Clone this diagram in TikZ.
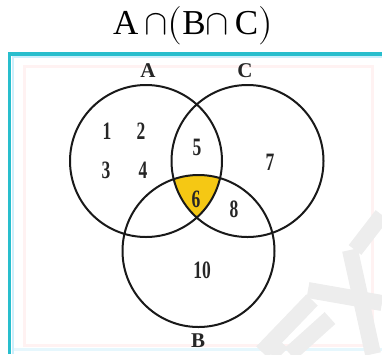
\documentclass[tikz,border=0pt]{standalone}
\usepackage{fontspec}
\setmainfont{Liberation Serif}
\usepackage{unicode-math}
\setmathfont{Latin Modern Math}
\definecolor{framecyan}{RGB}{40,190,205}
\definecolor{gold}{RGB}{245,200,20}
\begin{document}
\begin{tikzpicture}[x=1pt,y=-1pt,
  ring/.style={draw=black!90,line width=2pt},
  num/.style={font=\fontsize{25}{25}\selectfont\bfseries,text=black!85},
  setlab/.style={font=\fontsize{21}{21}\selectfont\bfseries,text=black!85},
  wm/.style={black!7,line width=16pt}]
\useasboundingbox (0,0) rectangle (382,354);
% frame
\draw[pink!20,line width=3pt] (24,66) rectangle (372,345);
\draw[cyan!10,line width=3pt] (13,349) -- (382,349);
\draw[framecyan,line width=3.5pt] (9.5,354) -- (9.5,54) -- (382,54);
\draw[cyan!20,line width=2pt] (13,354) -- (13,57) -- (382,57);
% watermark
\draw[wm] (262,352) -- (312,300);
\draw[wm] (290,354) -- (330,318);
\draw[wm] (270,342) -- (282,354);
\draw[wm] (308,290) -- (382,303);
\draw[wm] (350,250) -- (373,354);
\draw[wm] (355,250) -- (382,215);
% title
\node (title) at (193,26) {\fontsize{35}{40}\selectfont A\,$\cap$$\bigl($B$\cap$\,C$\bigr)$};
% shaded region
\coordinate (ca) at (146,161);
\coordinate (cc) at (247.5,161);
\coordinate (cb) at (198.5,251);
\begin{scope}
\clip (ca) circle (76);
\clip (cc) circle (76);
\fill[gold] (cb) circle (76);
\end{scope}
\draw[ring] (ca) circle (76);
\draw[ring] (cc) circle (76);
\draw[ring] (cb) circle (76);
% labels
\node[setlab] (la) at (148,71) {A};
\node[setlab] (lc) at (245,71) {C};
\node[setlab] (lb) at (198,341) {B};
\node[num] (n1) at (107,131) {\scalebox{0.7}[1]{1}};
\node[num] (n2) at (141,131) {\scalebox{0.7}[1]{2}};
\node[num] (n3) at (106,170) {\scalebox{0.7}[1]{3}};
\node[num] (n4) at (143,170) {\scalebox{0.7}[1]{4}};
\node[num] (n5) at (197,147) {\scalebox{0.7}[1]{5}};
\node[num] (n7) at (270,162) {\scalebox{0.7}[1]{7}};
\node[num] (n6) at (196,199) {\scalebox{0.7}[1]{6}};
\node[num] (n8) at (234,209) {\scalebox{0.7}[1]{8}};
\node[num] (n10) at (202,270) {\scalebox{0.7}[1]{10}};
\end{tikzpicture}
\end{document}
